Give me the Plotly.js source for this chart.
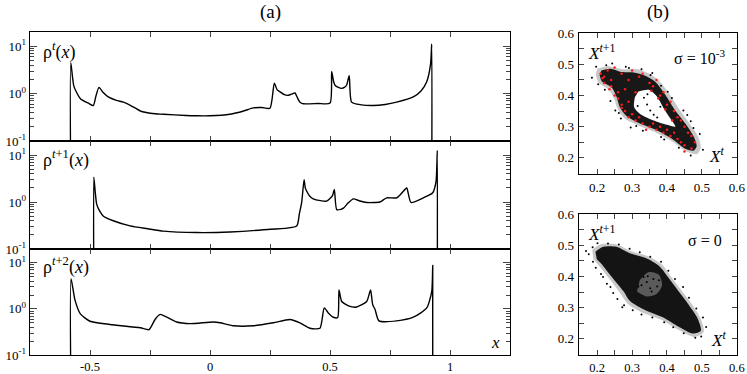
<!DOCTYPE html>
<html>
<head>
<meta charset="utf-8">
<script src="https://cdn.plot.ly/plotly-3.0.1.min.js"></script>
<style>html,body{margin:0;padding:0;background:#fff}#chart{width:747px;height:374px}</style>
</head>
<body>
<div id="chart"></div>
<script>
// ---------- Panel (a): densities ----------
const rhoT_x = [-0.58,-0.58,-0.567,-0.54,-0.505,-0.486,-0.475,-0.4625,-0.445,-0.424,-0.39,-0.361,-0.33,-0.29,-0.24,-0.194,-0.1,-0.056,0.0,0.083,0.14,0.18,0.215,0.25,0.268,0.28,0.292,0.31,0.326,0.345,0.354,0.365,0.375,0.389,0.45,0.5,0.507,0.515,0.521,0.535,0.549,0.56,0.569,0.58,0.59,0.63,0.68,0.73,0.778,0.847,0.88,0.903,0.919,0.924,0.924];
const rhoT_y = [0.01,4.5,1.42,0.78,0.62,0.56,0.9,1.35,1.05,0.85,0.72,0.66,0.56,0.43,0.38,0.367,0.345,0.34,0.34,0.367,0.43,0.5,0.51,0.49,1.65,1.2,1.09,0.95,0.92,1.0,1.03,0.8,0.66,0.61,0.62,0.63,2.95,1.8,1.5,1.35,1.29,1.35,1.5,2.4,0.66,0.58,0.56,0.59,0.66,0.85,1.15,1.78,4.2,11,0.01];

const rhoT1_x = [-0.484,-0.484,-0.478,-0.472,-0.46,-0.444,-0.403,-0.333,-0.26,-0.194,-0.056,0.083,0.222,0.361,0.372,0.382,0.392,0.397,0.403,0.415,0.43,0.46,0.486,0.51,0.518,0.528,0.545,0.556,0.575,0.597,0.625,0.653,0.708,0.736,0.778,0.8125,0.82,0.8375,0.889,0.928,0.942,0.947,0.947];
const rhoT1_y = [0.01,3.4,1.6,0.89,0.65,0.5,0.4,0.31,0.27,0.24,0.224,0.23,0.257,0.31,0.55,0.98,3.0,2.0,1.7,1.35,1.17,1.07,1.05,1.35,1.86,0.69,0.7,0.74,0.95,1.17,1.05,0.98,1.0,1.23,1.23,1.86,2.0,0.98,1.23,1.58,2.8,12.6,0.01];

const rhoT2_x = [-0.579,-0.579,-0.5625,-0.54,-0.5,-0.417,-0.29,-0.254,-0.229,-0.208,-0.18,-0.139,-0.083,0.014,0.042,0.097,0.18,0.264,0.333,0.375,0.417,0.458,0.476,0.493,0.514,0.532,0.5375,0.549,0.58,0.611,0.653,0.669,0.678,0.6875,0.704,0.778,0.847,0.903,0.924,0.928,0.928];
const rhoT2_y = [0.01,4.5,1.55,0.78,0.54,0.46,0.39,0.355,0.59,0.76,0.66,0.52,0.48,0.52,0.5,0.43,0.43,0.5,0.59,0.5,0.38,0.38,1.05,0.82,0.66,0.65,2.57,1.45,1.15,1.1,1.45,2.57,1.23,0.98,0.55,0.55,0.66,1.05,2.4,8.8,0.01];

const xTickVals = [-0.5,0,0.5,1];
const xTickText = ['-0.5','0','0.5','1'];
const xMinorVals = [-0.25,0.25,0.75];
const yTickVals = [0.1,1,10];
const yTickText = ['10<sup>-1</sup>','10<sup>0</sup>','10<sup>1</sup>'];
const yMinorVals = [0.2,0.3,0.4,0.5,0.6,0.7,0.8,0.9,2,3,4,5,6,7,8,9];

// ---------- Panel (b): return maps ----------
// sigma = 1e-3 : ring halo, dense ring core, hollow, sparse dots, red dots
const ringHalo_x = [0.200,0.230,0.275,0.315,0.345,0.375,0.405,0.435,0.462,0.487,0.497,0.486,0.456,0.415,0.365,0.318,0.280,0.258,0.248,0.232,0.205,0.196];
const ringHalo_y = [0.486,0.494,0.484,0.484,0.472,0.450,0.408,0.356,0.314,0.272,0.234,0.212,0.220,0.252,0.283,0.304,0.325,0.358,0.392,0.420,0.440,0.466];
const ringCore_x = [0.212,0.238,0.272,0.308,0.338,0.367,0.395,0.424,0.453,0.477,0.485,0.476,0.453,0.417,0.368,0.321,0.285,0.265,0.256,0.241,0.213,0.207];
const ringCore_y = [0.480,0.486,0.475,0.473,0.463,0.443,0.402,0.351,0.309,0.267,0.237,0.223,0.229,0.259,0.290,0.311,0.333,0.362,0.394,0.426,0.446,0.466];
const ringHole_x = [0.318,0.348,0.370,0.392,0.412,0.424,0.400,0.362,0.324,0.306,0.308];
const ringHole_y = [0.413,0.418,0.398,0.356,0.322,0.300,0.306,0.320,0.340,0.362,0.394];
const ringDots_x = [0.185,0.197,0.243,0.282,0.327,0.353,0.383,0.414,0.447,0.468,0.494,0.503,0.468,0.434,0.383,0.331,0.296,0.268,0.252,0.238,0.222,0.343,0.362,0.334,0.381,0.352,0.372,0.344,0.316,0.203,0.226,0.291,0.358,0.402,0.476,0.458,0.392,0.262,0.312,0.417];
const ringDots_y = [0.457,0.492,0.503,0.492,0.484,0.466,0.431,0.392,0.352,0.317,0.276,0.226,0.207,0.232,0.267,0.287,0.297,0.326,0.352,0.382,0.418,0.371,0.338,0.393,0.364,0.352,0.329,0.404,0.366,0.436,0.497,0.488,0.472,0.412,0.296,0.337,0.259,0.344,0.302,0.279];
const redDots_x = [0.21,0.22,0.23,0.25,0.24,0.27,0.26,0.29,0.30,0.32,0.33,0.35,0.36,0.37,0.38,0.39,0.40,0.41,0.42,0.43,0.44,0.45,0.46,0.47,0.48,0.47,0.45,0.43,0.41,0.39,0.37,0.35,0.33,0.31,0.29,0.28,0.27,0.26,0.25,0.27,0.30,0.34,0.38,0.42,0.45,0.44,0.22,0.24,0.28,0.31,0.355,0.375,0.395,0.415,0.40,0.36,0.32,0.29,0.235,0.215];
const redDots_y = [0.47,0.44,0.48,0.49,0.43,0.47,0.41,0.45,0.48,0.46,0.47,0.44,0.43,0.45,0.40,0.41,0.37,0.38,0.35,0.33,0.32,0.30,0.28,0.27,0.25,0.23,0.24,0.26,0.27,0.28,0.29,0.30,0.31,0.32,0.33,0.35,0.37,0.39,0.40,0.36,0.34,0.29,0.30,0.28,0.22,0.25,0.46,0.45,0.42,0.41,0.415,0.39,0.355,0.32,0.29,0.31,0.33,0.38,0.42,0.455];

// sigma = 0 : halo, dense core, lighter centre, sparse dots
const cloudHalo_x = [0.186,0.212,0.256,0.296,0.344,0.384,0.414,0.442,0.471,0.495,0.505,0.478,0.434,0.385,0.336,0.288,0.266,0.237,0.207,0.189];
const cloudHalo_y = [0.486,0.504,0.503,0.482,0.466,0.440,0.396,0.354,0.312,0.268,0.222,0.206,0.228,0.260,0.281,0.312,0.346,0.390,0.432,0.456];
const cloudCore_x = [0.195,0.218,0.255,0.292,0.339,0.378,0.407,0.435,0.463,0.487,0.497,0.474,0.436,0.388,0.341,0.294,0.276,0.246,0.217,0.199];
const cloudCore_y = [0.479,0.495,0.495,0.475,0.459,0.433,0.392,0.350,0.308,0.267,0.226,0.217,0.237,0.269,0.290,0.321,0.352,0.393,0.434,0.455];
const cloudLight_x = [0.322,0.348,0.376,0.386,0.370,0.342,0.314];
const cloudLight_y = [0.388,0.414,0.406,0.372,0.344,0.336,0.352];
const cloudDots_x = [0.176,0.187,0.201,0.231,0.262,0.293,0.322,0.352,0.383,0.404,0.423,0.446,0.463,0.484,0.503,0.512,0.498,0.481,0.448,0.418,0.392,0.358,0.327,0.302,0.277,0.258,0.246,0.228,0.211,0.196,0.188,0.272,0.238,0.217,0.168,0.342,0.361,0.352,0.333,0.372,0.356,0.327,0.377,0.345,0.318];
const cloudDots_y = [0.471,0.494,0.507,0.506,0.503,0.489,0.478,0.463,0.447,0.418,0.392,0.366,0.332,0.297,0.268,0.238,0.207,0.203,0.218,0.237,0.253,0.268,0.278,0.292,0.308,0.328,0.347,0.377,0.408,0.428,0.447,0.301,0.366,0.398,0.482,0.382,0.392,0.362,0.398,0.368,0.352,0.372,0.388,0.401,0.368];

const scTickVals = [0.2,0.3,0.4,0.5,0.6];
const scTickText = ['0.2','0.3','0.4','0.5','0.6'];
const scMinorVals = [0.25,0.35,0.45,0.55];

// ---------- build ----------
const FONT = 'Liberation Serif';
const line = {color:'black', width:1.4, shape:'spline', smoothing:0.6};
const poly = (x, y, ax, ay, color) => ({x, y, xaxis:ax, yaxis:ay, mode:'lines', fill:'toself', fillcolor:color,
  line:{color:'rgba(0,0,0,0)', width:0, shape:'spline', smoothing:0.8}});
const traces = [
  {x:rhoT_x, y:rhoT_y, xaxis:'x', yaxis:'y', mode:'lines', line},
  {x:rhoT1_x, y:rhoT1_y, xaxis:'x2', yaxis:'y2', mode:'lines', line},
  {x:rhoT2_x, y:rhoT2_y, xaxis:'x3', yaxis:'y3', mode:'lines', line},
  poly(ringHalo_x, ringHalo_y, 'x4', 'y4', 'rgba(0,0,0,0.22)'),
  poly(ringCore_x, ringCore_y, 'x4', 'y4', 'rgba(0,0,0,0.88)'),
  poly(ringHole_x, ringHole_y, 'x4', 'y4', 'white'),
  {x:ringDots_x, y:ringDots_y, xaxis:'x4', yaxis:'y4', mode:'markers', marker:{color:'black', size:2}},
  {x:redDots_x, y:redDots_y, xaxis:'x4', yaxis:'y4', mode:'markers', marker:{color:'#ff1a1a', size:2.5}},
  poly(cloudHalo_x, cloudHalo_y, 'x5', 'y5', 'rgba(0,0,0,0.22)'),
  poly(cloudCore_x, cloudCore_y, 'x5', 'y5', 'rgba(0,0,0,0.9)'),
  poly(cloudLight_x, cloudLight_y, 'x5', 'y5', 'rgba(255,255,255,0.3)'),
  {x:cloudDots_x, y:cloudDots_y, xaxis:'x5', yaxis:'y5', mode:'markers', marker:{color:'black', size:2}}
];

const W = 747, H = 374;
const px = v => v / W, py = v => 1 - v / H;
const tf = {family:FONT, size:13, color:'black'};
const tfb = {family:FONT, size:12.5, color:'black'};

function leftX(anchor, labels) {
  return {domain:[px(30), px(510)], anchor, range:[-0.75,1.25], tickmode:'array', tickvals:xTickVals,
    ticktext:xTickText, showticklabels: labels, ticks:'inside', ticklen:5, tickwidth:1,
    minor:{tickmode:'array', tickvals:xMinorVals, ticks:'inside', ticklen:5, tickwidth:1},
    showline:true, linecolor:'black', linewidth:1.4, mirror:'allticks', showgrid:false, zeroline:false,
    tickfont:tfb, ticklabelstandoff:0};
}
function leftY(anchor, dom) {
  return {domain:dom, anchor, type:'log', range:[-1,1.3], tickmode:'array', tickvals:yTickVals, ticktext:yTickText,
    ticks:'inside', ticklen:7, tickwidth:1, minor:{tickmode:'array', tickvals:yMinorVals, ticks:'inside', ticklen:4, tickwidth:1},
    showline:true, linecolor:'black', linewidth:1.4, mirror:'allticks', showgrid:false, zeroline:false, tickfont:tf};
}
function scAxis(anchor, dom, font) {
  return {domain:dom, anchor, range:[0.148,0.6005], tickmode:'array', tickvals:scTickVals, ticktext:scTickText,
    ticks:'inside', ticklen:5, tickwidth:1, minor:{tickmode:'array', tickvals:scMinorVals, ticks:'inside', ticklen:5, tickwidth:1},
    showline:true, linecolor:'black', linewidth:1.4, mirror:'allticks',
    showgrid:false, zeroline:false, tickfont:font||tf, ticklabelstandoff:1};
}
const d1 = [py(141), py(32)], d2 = [py(249), py(141)], d3 = [py(355), py(249)];
const s1 = [py(174), py(33)], s2 = [py(355), py(214)];
const sx = [px(579), px(737)];

const ann = (x, y, text, xanchor, size) => ({xref:'paper', yref:'paper', x:px(x), y:py(y), text, showarrow:false,
  xanchor:xanchor||'left', yanchor:'middle', font:{family:FONT, size:size||17, color:'black'}});

const layout = {
  width:W, height:H, margin:{l:0, r:0, t:0, b:0}, paper_bgcolor:'white', plot_bgcolor:'white', showlegend:false,
  font:{family:FONT, color:'black'},
  xaxis: leftX('y', false), yaxis: leftY('x', d1),
  xaxis2: leftX('y2', false), yaxis2: leftY('x2', d2),
  xaxis3: leftX('y3', true), yaxis3: leftY('x3', d3),
  xaxis4: scAxis('y4', sx), yaxis4: scAxis('x4', s1),
  xaxis5: scAxis('y5', sx, tfb), yaxis5: scAxis('x5', s2),
  annotations: [
    ann(270, 12, '(a)', 'center', 19),
    ann(658, 12, '(b)', 'center', 19),
    ann(41, 51, 'ρ<sup><i>t</i></sup>(<i>x</i>)', 'left', 18),
    ann(41, 159, 'ρ<sup><i>t</i>+1</sup>(<i>x</i>)', 'left', 18),
    ann(41, 266, 'ρ<sup><i>t</i>+2</sup>(<i>x</i>)', 'left', 18),
    ann(495, 342, '<i>x</i>', 'center', 17),
    ann(586, 52, '<i>X</i><sup><i>t</i>+1</sup>', 'left', 17),
    ann(727, 57, 'σ = 10<sup>-3</sup>', 'right', 16),
    ann(707, 155, '<i>X</i><sup><i>t</i></sup>', 'left', 17),
    ann(586, 233, '<i>X</i><sup><i>t</i>+1</sup>', 'left', 17),
    ann(724, 240, 'σ = 0', 'right', 16),
    ann(709, 339, '<i>X</i><sup><i>t</i></sup>', 'left', 17)
  ]
};

Plotly.newPlot('chart', traces, layout, {staticPlot:true, displayModeBar:false});
</script>
</body>
</html>
